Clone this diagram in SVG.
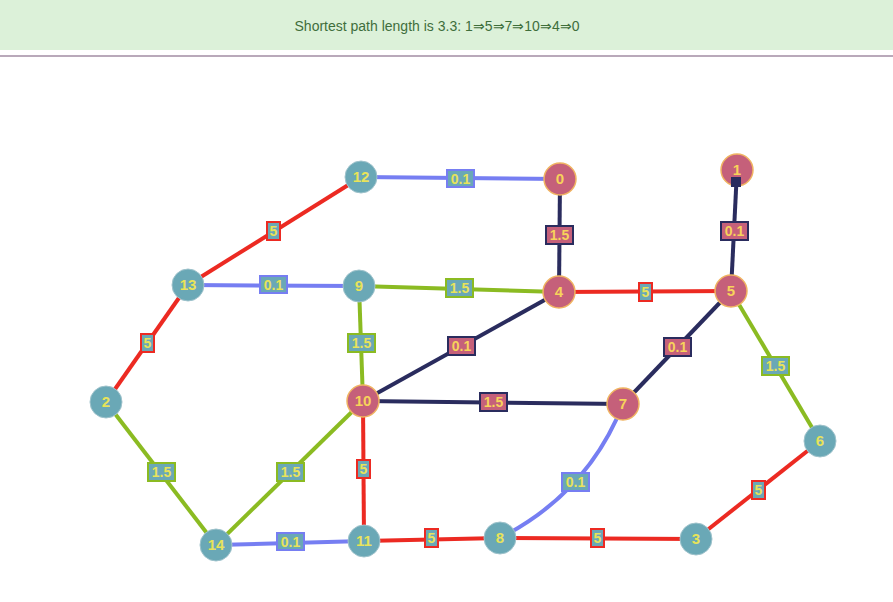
<svg xmlns="http://www.w3.org/2000/svg" width="893" height="602" viewBox="0 0 893 602">
<style>
.e{fill:none;stroke-width:4}
.r{stroke:#ec2a22}.b{stroke:#767ef2}.g{stroke:#8bbb22}.n{stroke:#2a2c5e}
.lb{fill:#6aa8b6;stroke-width:2}
.lp{fill:#c5607a;stroke:#2a2c5e;stroke-width:2}
.lt{font-family:"Liberation Sans",Arial,sans-serif;font-weight:bold;font-size:14px;text-anchor:middle;fill:#e8e35a}
.lpt{fill:#f7d35a}
.nt{fill:#6aa8b6;stroke:#9fc3cc;stroke-width:1}
.np{fill:#c5607a;stroke:#f0b462;stroke-width:1.5}
.tx{font-family:"Liberation Sans",Arial,sans-serif;font-weight:bold;font-size:15px;text-anchor:middle;fill:#e8e35a}
.txp{fill:#f7d35a}
</style>
<rect x="0" y="0" width="893" height="50" fill="#dcf1d9"/>
<rect x="0" y="55" width="893" height="2" fill="#b9a9ba"/>
<text x="437" y="31" font-family="Liberation Sans, Arial, sans-serif" font-size="14" fill="#3f6e3c" text-anchor="middle">Shortest path length is 3.3: 1⇒5⇒7⇒10⇒4⇒0</text>
<g id="connectors">
<line class="e b" x1="361" y1="177" x2="560" y2="179"/>
<line class="e n" x1="560" y1="179" x2="559" y2="292"/>
<line class="e n" x1="737" y1="170" x2="731" y2="291"/>
<line class="e r" x1="188" y1="285" x2="361" y2="177"/>
<line class="e b" x1="188" y1="285" x2="359" y2="286"/>
<line class="e g" x1="359" y1="286" x2="559" y2="292"/>
<line class="e r" x1="559" y1="292" x2="731" y2="291"/>
<line class="e r" x1="188" y1="285" x2="106" y2="402"/>
<line class="e g" x1="359" y1="286" x2="363" y2="401"/>
<line class="e n" x1="363" y1="401" x2="559" y2="292"/>
<line class="e n" x1="731" y1="291" x2="623" y2="404"/>
<line class="e g" x1="731" y1="291" x2="820" y2="441"/>
<line class="e n" x1="363" y1="401" x2="623" y2="404"/>
<line class="e g" x1="106" y1="402" x2="216" y2="545"/>
<line class="e g" x1="363" y1="401" x2="216" y2="545"/>
<line class="e r" x1="363" y1="401" x2="364" y2="541"/>
<path class="e b" d="M623,404 Q588,493 500,538"/>
<line class="e b" x1="216" y1="545" x2="364" y2="541"/>
<line class="e r" x1="364" y1="541" x2="500" y2="538"/>
<line class="e r" x1="500" y1="538" x2="696" y2="539"/>
<line class="e r" x1="696" y1="539" x2="820" y2="441"/>
<rect class="lb" x="447" y="170" width="27" height="17" stroke="#767ef2"/><text class="lt" x="460.5" y="184">0.1</text>
<rect class="lp" x="546" y="226" width="27" height="18"/><text class="lt lpt" x="559.5" y="240">1.5</text>
<rect class="lp" x="721" y="222" width="27" height="18"/><text class="lt lpt" x="734.5" y="236">0.1</text>
<rect class="lb" x="267" y="222" width="13" height="18" stroke="#ec2a22"/><text class="lt" x="273.5" y="236">5</text>
<rect class="lb" x="260" y="276" width="27" height="17" stroke="#767ef2"/><text class="lt" x="273.5" y="290">0.1</text>
<rect class="lb" x="446" y="279" width="27" height="18" stroke="#8bbb22"/><text class="lt" x="459.5" y="293">1.5</text>
<rect class="lb" x="639" y="283" width="13" height="18" stroke="#ec2a22"/><text class="lt" x="645.5" y="297">5</text>
<rect class="lb" x="141" y="334" width="13" height="18" stroke="#ec2a22"/><text class="lt" x="147.5" y="348">5</text>
<rect class="lb" x="348" y="334" width="27" height="18" stroke="#8bbb22"/><text class="lt" x="361.5" y="348">1.5</text>
<rect class="lp" x="448" y="337" width="27" height="18"/><text class="lt lpt" x="461.5" y="351">0.1</text>
<rect class="lp" x="664" y="338" width="27" height="18"/><text class="lt lpt" x="677.5" y="352">0.1</text>
<rect class="lb" x="762" y="357" width="27" height="18" stroke="#8bbb22"/><text class="lt" x="775.5" y="371">1.5</text>
<rect class="lp" x="480" y="393" width="27" height="18"/><text class="lt lpt" x="493.5" y="407">1.5</text>
<rect class="lb" x="148" y="463" width="27" height="18" stroke="#8bbb22"/><text class="lt" x="161.5" y="477">1.5</text>
<rect class="lb" x="277" y="463" width="27" height="18" stroke="#8bbb22"/><text class="lt" x="290.5" y="477">1.5</text>
<rect class="lb" x="357" y="460" width="13" height="18" stroke="#ec2a22"/><text class="lt" x="363.5" y="474">5</text>
<rect class="lb" x="562" y="473" width="27" height="18" stroke="#767ef2"/><text class="lt" x="575.5" y="487">0.1</text>
<rect class="lb" x="277" y="533" width="27" height="17" stroke="#767ef2"/><text class="lt" x="290.5" y="547">0.1</text>
<rect class="lb" x="425" y="529" width="13" height="18" stroke="#ec2a22"/><text class="lt" x="431.5" y="543">5</text>
<rect class="lb" x="591" y="529" width="13" height="18" stroke="#ec2a22"/><text class="lt" x="597.5" y="543">5</text>
<rect class="lb" x="752" y="481" width="13" height="18" stroke="#ec2a22"/><text class="lt" x="758.5" y="495">5</text>
</g>
<g id="node12"><circle class="nt" cx="361" cy="177" r="16"/><text class="tx" x="361" y="182">12</text></g>
<g id="node0"><circle class="np" cx="560" cy="179" r="16"/><text class="tx txp" x="560" y="184">0</text></g>
<g id="node1"><circle class="np" cx="737" cy="170" r="16"/><text class="tx txp" x="737" y="175">1</text><rect x="731" y="177" width="10" height="10" fill="#2a2c5e"/></g>
<g id="node13"><circle class="nt" cx="188" cy="285" r="16"/><text class="tx" x="188" y="290">13</text></g>
<g id="node9"><circle class="nt" cx="359" cy="286" r="16"/><text class="tx" x="359" y="291">9</text></g>
<g id="node4"><circle class="np" cx="559" cy="292" r="16"/><text class="tx txp" x="559" y="297">4</text></g>
<g id="node5"><circle class="np" cx="731" cy="291" r="16"/><text class="tx txp" x="731" y="296">5</text></g>
<g id="node2"><circle class="nt" cx="106" cy="402" r="16"/><text class="tx" x="106" y="407">2</text></g>
<g id="node10"><circle class="np" cx="363" cy="401" r="16"/><text class="tx txp" x="363" y="406">10</text></g>
<g id="node7"><circle class="np" cx="623" cy="404" r="16"/><text class="tx txp" x="623" y="409">7</text></g>
<g id="node6"><circle class="nt" cx="820" cy="441" r="16"/><text class="tx" x="820" y="446">6</text></g>
<g id="node14"><circle class="nt" cx="216" cy="545" r="16"/><text class="tx" x="216" y="550">14</text></g>
<g id="node11"><circle class="nt" cx="364" cy="541" r="16"/><text class="tx" x="364" y="546">11</text></g>
<g id="node8"><circle class="nt" cx="500" cy="538" r="16"/><text class="tx" x="500" y="543">8</text></g>
<g id="node3"><circle class="nt" cx="696" cy="539" r="16"/><text class="tx" x="696" y="544">3</text></g>
</svg>
